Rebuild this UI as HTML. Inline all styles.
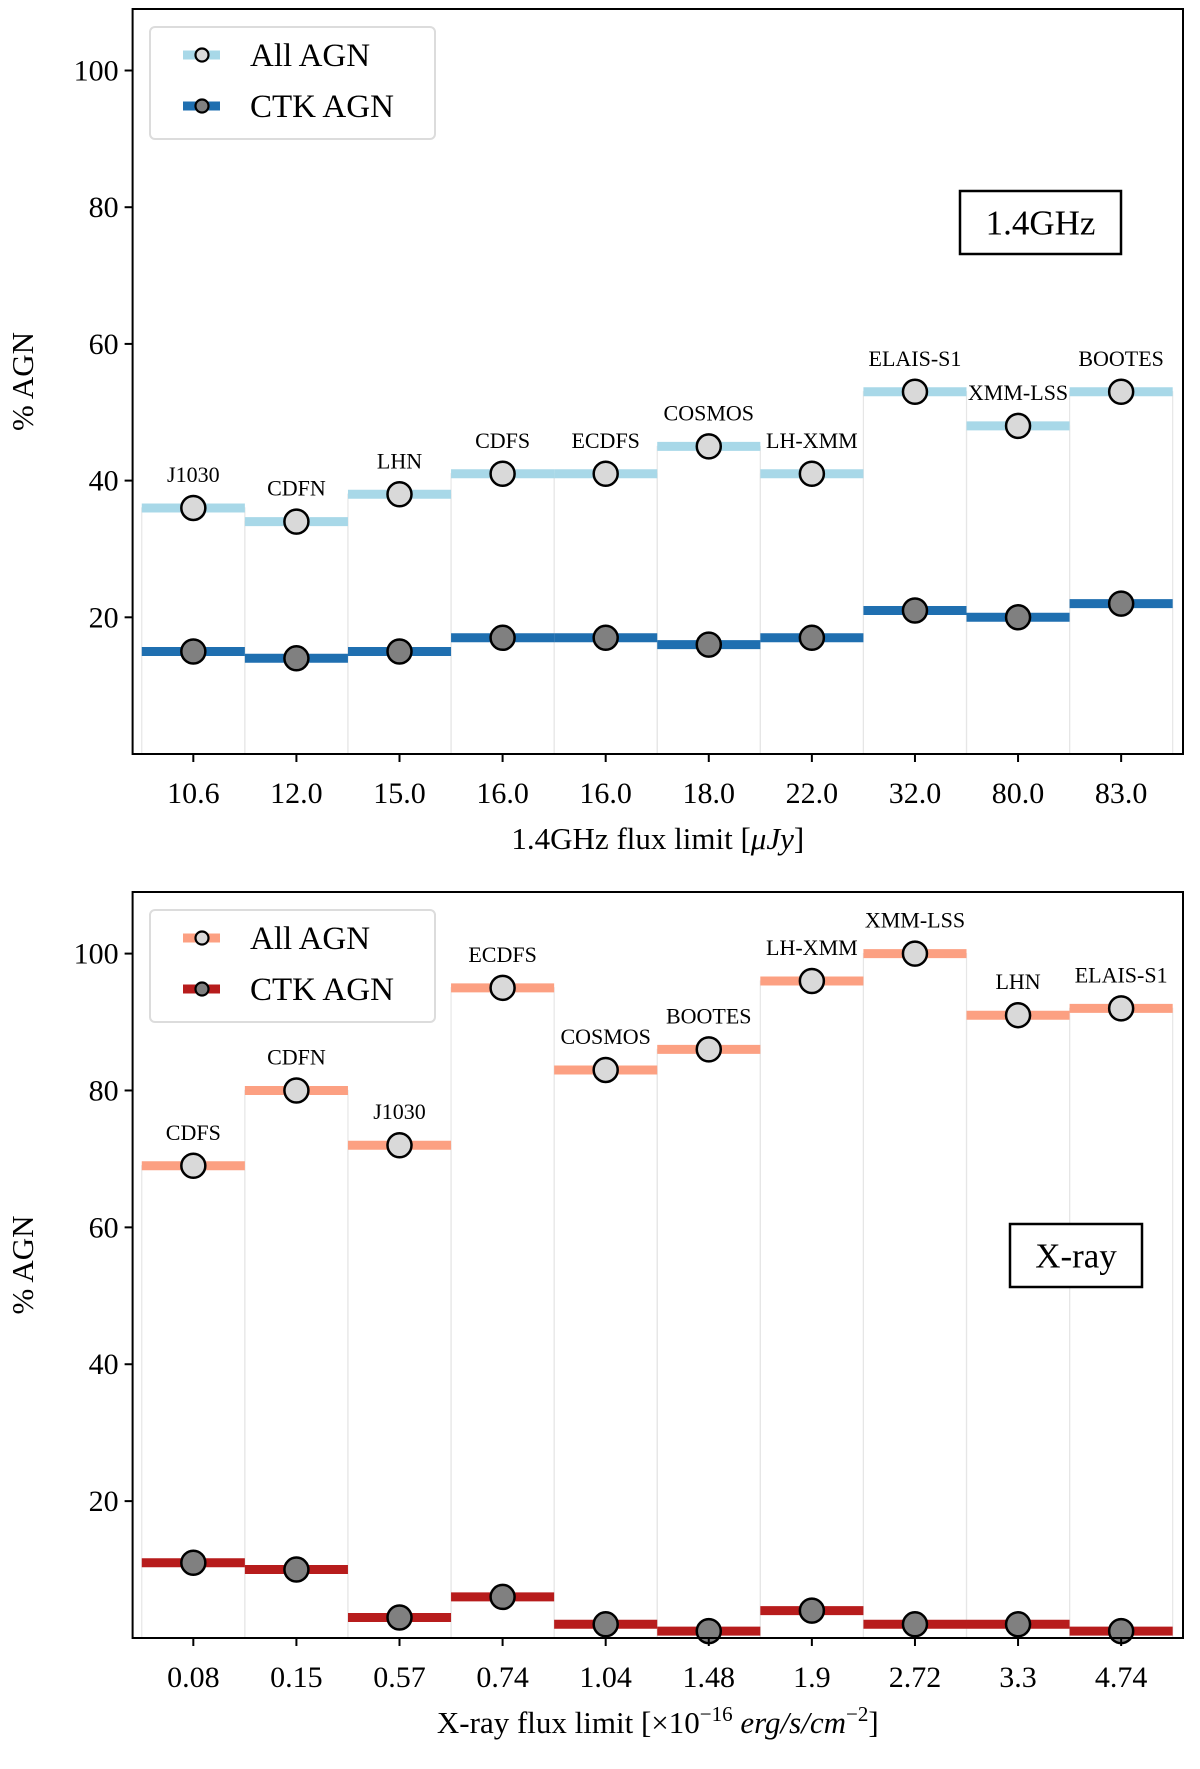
<!DOCTYPE html>
<html><head><meta charset="utf-8"><style>
body{margin:0;background:#fff}
svg text{font-family:"Liberation Serif","DejaVu Serif",serif;fill:#000}
</style></head><body>
<svg id="chart" width="1200" height="1764" viewBox="0 0 1200 1764" xmlns="http://www.w3.org/2000/svg"></svg>
<script>
const topLabels=["J1030","CDFN","LHN","CDFS","ECDFS","COSMOS","LH-XMM","ELAIS-S1","XMM-LSS","BOOTES"];
const topTicks=["10.6","12.0","15.0","16.0","16.0","18.0","22.0","32.0","80.0","83.0"];
const topAll=[36,34,38,41,41,45,41,53,48,53];
const topCtk=[15,14,15,17,17,16,17,21,20,22];
const botLabels=["CDFS","CDFN","J1030","ECDFS","COSMOS","BOOTES","LH-XMM","XMM-LSS","LHN","ELAIS-S1"];
const botTicks=["0.08","0.15","0.57","0.74","1.04","1.48","1.9","2.72","3.3","4.74"];
const botAll=[69,80,72,95,83,86,96,100,91,92];
const botCtk=[11,10,3,6,2,1,4,2,2,1];
const yTicks=[20,40,60,80,100];

const svg=document.getElementById('chart');
const NS='http://www.w3.org/2000/svg';
function mk(tag,attrs,parent){const e=document.createElementNS(NS,tag);for(const k in attrs)e.setAttribute(k,attrs[k]);(parent||svg).appendChild(e);return e;}

function panel(o){
  const L=132.6,R=1183,T=o.top,B=o.bottom;
  const xmin=-0.589,xmax=9.6,ymax=109;
  const X=v=>L+(v-xmin)/(xmax-xmin)*(R-L);
  const Y=v=>B-v/ymax*(B-T);
  const g=mk('g',{});
  
  
  o.all.forEach((v,i)=>{
    const r=mk('rect',{x:X(i-0.5),y:Y(v),width:X(i+0.5)-X(i-0.5),height:B-Y(v),fill:'none',stroke:'#e6e6e6','stroke-width':1.2},g);
    
    
  });
  [[o.all,o.allColor,'#d9d9d9','all'],[o.ctk,o.ctkColor,'#808080','ctk']].forEach(([arr,col,fill,nm])=>{
    arr.forEach((v,i)=>{
      const l=mk('line',{x1:X(i-0.5),x2:X(i+0.5),y1:Y(v),y2:Y(v),stroke:col,'stroke-width':9},g);
      
      
    });
  });
  [[o.all,'#d9d9d9','all'],[o.ctk,'#808080','ctk']].forEach(([arr,fill,nm])=>{
    arr.forEach((v,i)=>{
      const c=mk('circle',{cx:X(i),cy:Y(v),r:12,fill:fill,stroke:'#000','stroke-width':2.5},g);
      
      
    });
  });
  o.all.forEach((v,i)=>{
    const t=mk('text',{x:X(i),y:Y(v)-26,'text-anchor':'middle','font-size':22},g);
    t.textContent=o.labels[i];
    
    
  });
  const fr=mk('rect',{x:L,y:T,width:R-L,height:B-T,fill:'none',stroke:'#000','stroke-width':2},g);
  
  
  yTicks.forEach(v=>{
    mk('line',{x1:L-8,x2:L,y1:Y(v),y2:Y(v),stroke:'#000','stroke-width':2},g);
    const t=mk('text',{x:L-14,y:Y(v)+10,'text-anchor':'end','font-size':30},g);
    t.textContent=v;
    
    
  });
  o.ticks.forEach((s,i)=>{
    mk('line',{x1:X(i),x2:X(i),y1:B,y2:B+8,stroke:'#000','stroke-width':2},g);
    const t=mk('text',{x:X(i),y:B+49,'text-anchor':'middle','font-size':30},g);
    t.textContent=s;
    
    
  });
  const xt=mk('text',{x:(L+R)/2,y:B+95,'text-anchor':'middle','font-size':31},g);
  xt.innerHTML=o.xtitle;
  
  
  const yc=(T+B)/2;
  const yt=mk('text',{x:0,y:0,transform:`translate(33,${yc}) rotate(-90)`,'text-anchor':'middle','font-size':31},g);
  yt.textContent='% AGN';
  
  
  // legend
  const lg=mk('g',{},g);
  
  
  mk('rect',{x:150,y:T+18,width:285,height:112,rx:5,fill:'#fff',stroke:'#dcdcdc','stroke-width':2},lg);
  [[o.allColor,'#d9d9d9','All AGN',T+46],[o.ctkColor,'#808080','CTK AGN',T+97]].forEach(([c,f,txt,yy])=>{
    mk('line',{x1:183,x2:220,y1:yy,y2:yy,stroke:c,'stroke-width':9},lg);
    mk('circle',{cx:202,cy:yy,r:6.5,fill:f,stroke:'#000','stroke-width':2.2},lg);
    const t=mk('text',{x:250,y:yy+11,'font-size':33},lg);
    t.textContent=txt;
    
    
  });
  const bx=o.box;
  const br=mk('rect',{x:bx[0],y:bx[1],width:bx[2],height:bx[3],fill:'#fff',stroke:'#000','stroke-width':2.5},g);
  
  
  const bt=mk('text',{x:bx[0]+bx[2]/2,y:bx[1]+bx[3]/2+12,'text-anchor':'middle','font-size':35},g);
  bt.textContent=o.boxText;
  
  
}
panel({name:'radio',top:9,bottom:754,all:topAll,ctk:topCtk,labels:topLabels,ticks:topTicks,allColor:'#a8d8e8',ctkColor:'#1f6fb0',
  xtitle:'1.4GHz flux limit [<tspan font-style="italic">μJy</tspan>]',box:[960,191,161,63],boxText:'1.4GHz'});
panel({name:'xray',top:892,bottom:1638,all:botAll,ctk:botCtk,labels:botLabels,ticks:botTicks,allColor:'#fca082',ctkColor:'#b71c1c',
  xtitle:'X-ray flux limit [×10<tspan dy="-12" font-size="21">−16</tspan><tspan dy="12"> </tspan><tspan font-style="italic">erg/s/cm</tspan><tspan dy="-12" font-size="21">−2</tspan><tspan dy="12">]</tspan>',box:[1010,1224,132,63],boxText:'X-ray'});
</script>
</body></html>
